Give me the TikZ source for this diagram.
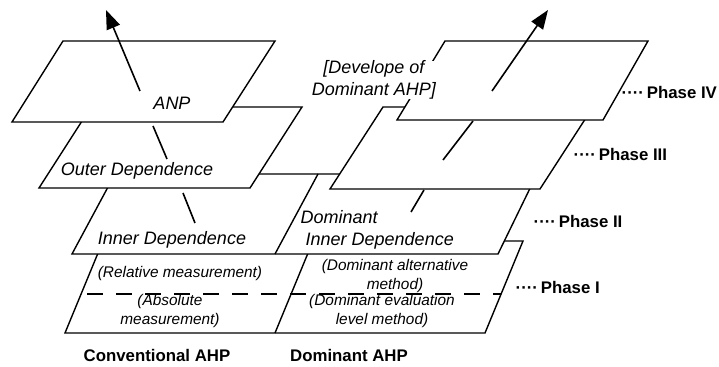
\documentclass[tikz,border=0pt]{standalone}
\usepackage{fontspec}
\setmainfont{Liberation Sans}
\usetikzlibrary{arrows.meta}

\begin{document}
\begin{tikzpicture}[x=0.5pt,y=-0.5pt,line width=0.7pt,
	plane/.style={draw,fill=white},
	axis/.style={line width=0.8pt},
	tip/.style={-{Triangle[length=9.5pt,width=7pt]}},
	lay/.style={font=\fontsize{9}{11}\selectfont\itshape,inner sep=0pt},
	sub/.style={font=\fontsize{7.7}{9.2}\selectfont\itshape,align=center,inner sep=0pt},
	phase/.style={font=\fontsize{8.4}{10}\selectfont\bfseries,anchor=west,inner sep=0pt}]
	\useasboundingbox (0,0) rectangle (719,367);
	% phase I
	\draw[plane] (103,241) -- (523,241) -- (485,333) -- (65,333) -- cycle;
	\draw (313,241) -- (275,333);
	\draw[dash pattern=on 8.2pt off 6.3pt,dash phase=11.5pt] (81,294) -- (501,294);
	% phase II
	\draw[plane] (115,174) -- (537,174) -- (498,254) -- (72,254) -- cycle;
	\draw (318,174) -- (275,254);
	% outer dependence
	\draw[plane] (91,107) -- (302,107) -- (250,188) -- (39,188) -- cycle;
	% phase III
	\draw[plane] (383,107) -- (593,107) -- (540,189) -- (330,189) -- cycle;
	% ANP
	\draw[plane] (63,41) -- (275,41) -- (223,122) -- (12,122) -- cycle;
	% phase IV
	\draw[plane] (445,41) -- (648,41) -- (603,120) -- (397,120) -- cycle;

	% axes
	\coordinate (l1) at (195,223);
	\coordinate (l1u) at (183,193);
	\coordinate (l2) at (167,159);
	\coordinate (l2u) at (153,126);
	\coordinate (l3) at (140,91);
	\coordinate (ltop) at (106,10);
	\coordinate (r1) at (411,212);
	\coordinate (r1u) at (424,190);
	\coordinate (r2) at (443,160);
	\coordinate (r2u) at (473,121);
	\coordinate (r3) at (492,91);
	\coordinate (rtop) at (548,10);
	\draw[axis] (l1) -- (l1u);
	\draw[axis] (l2) -- (l2u);
	\draw[axis,tip] (l3) -- (ltop);
	\draw[axis] (r1) -- (r1u);
	\draw[axis] (r2) -- (r2u);
	\draw[axis,tip] (r3) -- (rtop);

	% texts
	\node[lay] (anp) at (172,103) {ANP};
	\node[lay] (outer) at (137,171) {Outer Dependence};
	\node[lay] (inner) at (172,240) {Inner Dependence};
	\node[lay,align=left,anchor=west] (dinner) at (300,230) {Dominant\\\hspace*{2.5pt}Inner Dependence};
	\node[sub] (rel) at (180,274) {(Relative measurement)};
	\node[sub] (abs) at (170,311) {(Absolute\\measurement)};
	\node[sub] (dalt) at (395,276) {(Dominant alternative\\method)};
	\node[sub] (deval) at (382,311) {(Dominant evaluation\\level method)};
	\node[lay,align=center,fill=white] (devel) at (374,80) {[Develope of\\Dominant AHP]};
	\node[phase] (p4) at (621,93) {····\,Phase IV};
	\node[phase] (p3) at (573,155) {····\,Phase III};
	\node[phase] (p2) at (533,222) {····\,Phase II};
	\node[phase] (p1) at (515,288) {····\,Phase I};
	\node[phase,anchor=center] (conv) at (157,356) {Conventional AHP};
	\node[phase,anchor=center] (dom) at (349,356) {Dominant AHP};
\end{tikzpicture}
\end{document}
